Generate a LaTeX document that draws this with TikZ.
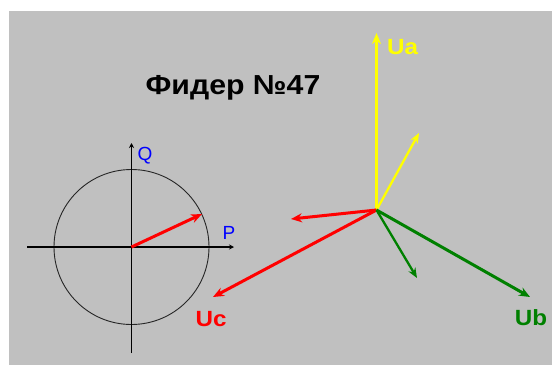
\documentclass[tikz,border=0pt]{standalone}
\usepackage{fontspec}
\setmainfont{Liberation Sans}
\usetikzlibrary{arrows.meta}
\definecolor{bg}{HTML}{C0C0C0}
\definecolor{ylw}{HTML}{FFFF00}
\definecolor{grn}{HTML}{008000}
\definecolor{rd}{HTML}{FF0000}
\definecolor{blu}{HTML}{0000FF}
\begin{document}
\begin{tikzpicture}[x=1pt,y=-1pt,
  vec/.style={line width=3pt,-{Stealth[length=11pt,width=9pt]}},
  thinvec/.style={line width=2.3pt,-{Stealth[length=10pt,width=8pt]}},
  axis/.style={line width=1.4pt,black},
  lbl/.style={inner sep=0pt,xscale=1.1,font=\bfseries\fontsize{22}{22}\selectfont},
  axlbl/.style={inner sep=0pt,text=blu,font=\fontsize{19}{19}\selectfont}]
\useasboundingbox (0,0) rectangle (552,365);
\fill[bg] (9,11) rectangle (552,365);
% title
\node[inner sep=0pt,xscale=1.1,font=\bfseries\fontsize{27.5}{27.5}\selectfont] (title) at (233,88) {Фидер №47};
% PQ circle diagram
\coordinate (C) at (131.5,247);
\coordinate (xl) at (27,247);
\coordinate (xr) at (234,247);
\coordinate (yt) at (131.5,143);
\coordinate (yb) at (131.5,353);
\coordinate (S) at (202,214);
\draw[line width=0.9pt,black!85] (C) circle[radius=77.5];
\draw[axis,-{Stealth[length=5pt,width=5pt]}] (xl) -- (xr);
\draw[axis,-{Stealth[length=5pt,width=5pt]}] (yb) -- (yt);
\draw[vec,rd] (C) -- (S);
\node[axlbl] (Q) at (145,156) {Q};
\node[axlbl] (P) at (229,233) {P};
% voltage / current vectors
\coordinate (O) at (376.5,210);
\coordinate (Ua) at (376.5,33);
\coordinate (Ia) at (419,133);
\coordinate (Ub) at (530,297);
\coordinate (Ib) at (417,278);
\coordinate (Uc) at (213,297);
\coordinate (Ic) at (291,219);
\draw[vec,ylw] (O) -- (Ua);
\draw[thinvec,ylw] (O) -- (Ia);
\draw[vec,rd] (O) -- (Uc);
\draw[vec,rd] (O) -- (Ic);
\draw[vec,grn] (O) -- (Ub);
\draw[thinvec,grn] (O) -- (Ib);
\node[lbl,text=ylw,anchor=west] (ua) at (387,47) {Ua};
\node[lbl,text=rd] (uc) at (211,319) {Uc};
\node[lbl,text=grn] (ub) at (531,318) {Ub};
\end{tikzpicture}
\end{document}
